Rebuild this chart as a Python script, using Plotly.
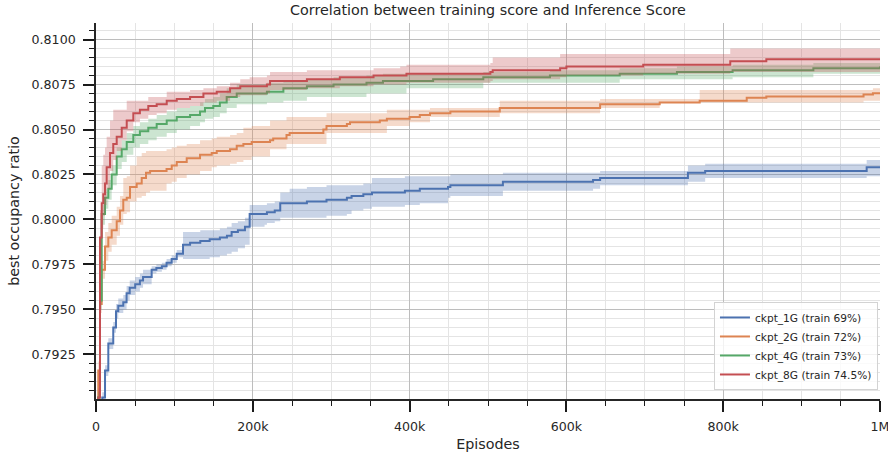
import plotly.graph_objects as go

# ---------------- data ----------------
series_names = ["ckpt_1G (train 69%)", "ckpt_2G (train 72%)",
                "ckpt_4G (train 73%)", "ckpt_8G (train 74.5%)"]
line_colors = ["#4C72B0", "#DD8452", "#55A868", "#C44E52"]
band_colors = ["rgba(76,114,176,0.30)", "rgba(221,132,82,0.30)",
               "rgba(85,168,104,0.30)", "rgba(196,78,82,0.30)"]

# ckpt_1G
g1_episodes = [0, 8000, 11500, 15700, 22000, 25500, 28400, 34800, 39000, 43000, 50000, 56000, 60000,
               71000, 77000, 84000, 90000, 96500, 103000, 111000, 120000, 133000, 145000, 158000,
               167000, 173000, 181000, 190000, 196000, 215000, 218000, 228000, 235000, 247000, 269000,
               294000, 320000, 326000, 341000, 352000, 394000, 413000, 449000, 452000, 519000, 634000,
               643000, 755000, 777000, 983000, 1000000]
g1_mean = [0.7888, 0.7901, 0.7916, 0.7931, 0.7940, 0.7949, 0.7952, 0.7954, 0.7959, 0.7962, 0.7964, 0.7966, 0.7968,
           0.7972, 0.7973, 0.7974, 0.7976, 0.7978, 0.7981, 0.7986, 0.7987, 0.7988, 0.7989, 0.7990,
           0.7991, 0.7993, 0.7994, 0.7996, 0.8003, 0.8003, 0.8004, 0.8005, 0.8009, 0.8009, 0.8010,
           0.8011, 0.8012, 0.8013, 0.8014, 0.8015, 0.8016, 0.8017, 0.8018, 0.8019, 0.8021, 0.8022,
           0.8023, 0.8026, 0.8027, 0.8029, 0.8029]
g1_upper = [0.7891, 0.7904, 0.7919, 0.7934, 0.7943, 0.7953, 0.7956, 0.7958, 0.7963, 0.7966, 0.7968, 0.7970, 0.7972,
            0.7974, 0.7975, 0.7976, 0.7978, 0.7980, 0.7983, 0.7993, 0.7993, 0.7994, 0.7994, 0.7995,
            0.7996, 0.7998, 0.7999, 0.8001, 0.8008, 0.8008, 0.8009, 0.8010, 0.8015, 0.8017, 0.8018,
            0.8019, 0.8019, 0.8019, 0.8020, 0.8023, 0.8024, 0.8024, 0.8024, 0.8025, 0.8026, 0.8026,
            0.8027, 0.8030, 0.8031, 0.8033, 0.8033]
g1_lower = [0.7885, 0.7898, 0.7913, 0.7928, 0.7937, 0.7945, 0.7948, 0.7950, 0.7955, 0.7958, 0.7960, 0.7962, 0.7964,
            0.7970, 0.7971, 0.7972, 0.7974, 0.7976, 0.7979, 0.7978, 0.7978, 0.7978, 0.7979, 0.7980,
            0.7981, 0.7982, 0.7984, 0.7986, 0.7996, 0.7997, 0.7998, 0.7999, 0.8001, 0.8001, 0.8001,
            0.8002, 0.8003, 0.8005, 0.8006, 0.8007, 0.8008, 0.8009, 0.8012, 0.8013, 0.8016, 0.8017,
            0.8019, 0.8021, 0.8023, 0.8024, 0.8024]

# ckpt_2G
g2_episodes = [0, 2900, 5100, 7300, 11500, 15700, 20000, 26400, 30600, 34800, 39200, 43400, 51900, 58300,
               63800, 69000, 90000, 96600, 103000, 115700, 132700, 147600, 154000, 171000, 179500, 188000,
               198600, 222000, 226000, 243000, 247000, 290000, 294000, 320000, 324000, 362000, 371000,
               400000, 413000, 426000, 452000, 515000, 643000, 719000, 770000, 830000, 855000, 979000,
               991000, 1000000]
g2_mean = [0.7888, 0.7916, 0.7953, 0.7972, 0.7985, 0.7990, 0.7994, 0.7999, 0.8005, 0.8011, 0.8012, 0.8018, 0.8020,
           0.8023, 0.8026, 0.8027, 0.8028, 0.8030, 0.8032, 0.8034, 0.8036, 0.8037, 0.8038, 0.8039, 0.8041,
           0.8042, 0.8043, 0.8044, 0.8045, 0.8047, 0.8048, 0.8050, 0.8052, 0.8053, 0.8054, 0.8055, 0.8056,
           0.8057, 0.8058, 0.8059, 0.8060, 0.8062, 0.8064, 0.8065, 0.8066, 0.80676, 0.80683, 0.80694,
           0.80702, 0.80707]
g2_upper = [0.7893, 0.7921, 0.7958, 0.7977, 0.7993, 0.7998, 0.8002, 0.8007, 0.8013, 0.8023, 0.8024, 0.8030,
            0.8035, 0.8037, 0.8038, 0.8038, 0.8039, 0.8040, 0.8041, 0.8042, 0.8044, 0.8045, 0.8046, 0.8047,
            0.8048, 0.8051, 0.8052, 0.8055, 0.8055, 0.8057, 0.8057, 0.8057, 0.8059, 0.8059, 0.8059, 0.8059,
            0.8061, 0.8061, 0.8061, 0.8062, 0.8062, 0.8066, 0.8067, 0.8067, 0.8072, 0.8072, 0.8072, 0.8072,
            0.8073, 0.8073]
g2_lower = [0.7883, 0.7911, 0.7948, 0.7967, 0.7977, 0.7982, 0.7986, 0.7991, 0.7997, 0.8003, 0.8004, 0.8010,
            0.8012, 0.8013, 0.8015, 0.8016, 0.8020, 0.8021, 0.8023, 0.8025, 0.8027, 0.8029, 0.8030, 0.8031,
            0.8032, 0.8033, 0.8035, 0.8039, 0.8039, 0.8042, 0.8042, 0.8042, 0.8048, 0.8048, 0.8048, 0.8048,
            0.8052, 0.8054, 0.8054, 0.8057, 0.8057, 0.8059, 0.8062, 0.8065, 0.8065, 0.8065, 0.8065, 0.8066,
            0.8066, 0.8066]

# ckpt_4G
g4_episodes = [0, 2600, 5100, 7300, 11500, 15700, 20000, 26400, 32800, 39200, 47600, 56000, 66700, 77400,
               90200, 103000, 120000, 132700, 139000, 149600, 158000, 166700, 179500, 196000, 218000,
               239000, 269000, 303000, 345000, 366000, 396000, 430000, 494000, 579000, 668000, 741000,
               812000, 915000, 1000000]
g4_mean = [0.7888, 0.7901, 0.7955, 0.8003, 0.8012, 0.8017, 0.8025, 0.8035, 0.8039, 0.8043, 0.8047, 0.8049, 0.8051,
           0.8053, 0.8055, 0.8057, 0.8058, 0.8060, 0.8062, 0.8063, 0.8065, 0.8068, 0.8070, 0.8070, 0.8071,
           0.8073, 0.8074, 0.8075, 0.8076, 0.8077, 0.8077, 0.8078, 0.8079, 0.8080, 0.8081, 0.8082, 0.8083,
           0.8084, 0.8085]
g4_upper = [0.7891, 0.7904, 0.7958, 0.8008, 0.8017, 0.8022, 0.8030, 0.8040, 0.8044, 0.8048, 0.8052, 0.8054,
            0.8056, 0.8058, 0.8060, 0.8062, 0.8063, 0.8065, 0.8067, 0.8068, 0.8070, 0.8073, 0.8075, 0.8075,
            0.8076, 0.8077, 0.8078, 0.8079, 0.8080, 0.8081, 0.8081, 0.8081, 0.8082, 0.8083, 0.8084, 0.8085,
            0.8086, 0.8087, 0.8088]
g4_lower = [0.7885, 0.7898, 0.7950, 0.7997, 0.8006, 0.8011, 0.8019, 0.8028, 0.8032, 0.8036, 0.8040, 0.8042,
            0.8044, 0.8046, 0.8048, 0.8050, 0.8052, 0.8054, 0.8056, 0.8057, 0.8059, 0.8062, 0.8064, 0.8064,
            0.8065, 0.8066, 0.8068, 0.8068, 0.8070, 0.8070, 0.8073, 0.8073, 0.8076, 0.8076, 0.8078, 0.8078,
            0.8079, 0.8081, 0.8082]

# ckpt_8G
g8_episodes = [0, 2900, 5100, 7300, 9300, 11500, 13600, 17900, 22000, 26400, 32800, 39200, 47600, 56000,
               66700, 77400, 90200, 103000, 120000, 137000, 154000, 167000, 171000, 184000, 196000, 218000,
               222000, 269000, 311000, 354000, 388000, 396000, 430000, 503000, 506000, 575000, 592000,
               600000, 698000, 796000, 809000, 855000, 940000, 1000000]
g8_mean = [0.7888, 0.7901, 0.7990, 0.8009, 0.8014, 0.8020, 0.8029, 0.8037, 0.8042, 0.8046, 0.8051, 0.8055, 0.8059,
           0.8061, 0.8063, 0.8064, 0.8066, 0.8067, 0.8068, 0.8070, 0.8071, 0.8071, 0.8073, 0.8074, 0.8074,
           0.8075, 0.8077, 0.8078, 0.8079, 0.8080, 0.8080, 0.8081, 0.8081, 0.8082, 0.8083, 0.8083, 0.8084,
           0.8085, 0.8086, 0.8086, 0.8088, 0.8089, 0.8089, 0.8089]
g8_upper = [0.7893, 0.7906, 0.8005, 0.8030, 0.8036, 0.8040, 0.8046, 0.8055, 0.8061, 0.8061, 0.8061, 0.8066,
            0.8066, 0.8066, 0.8068, 0.8068, 0.8071, 0.8071, 0.8072, 0.8073, 0.8074, 0.8074, 0.8076, 0.8078,
            0.8079, 0.8080, 0.8082, 0.8083, 0.8083, 0.8084, 0.8085, 0.8086, 0.8086, 0.8087, 0.8090, 0.8090,
            0.8092, 0.8092, 0.8092, 0.8092, 0.8095, 0.8095, 0.8095, 0.8097]
g8_lower = [0.7883, 0.7896, 0.7975, 0.7995, 0.8002, 0.8008, 0.8017, 0.8027, 0.8033, 0.8038, 0.8044, 0.8049,
            0.8054, 0.8056, 0.8058, 0.8059, 0.8061, 0.8062, 0.8063, 0.8065, 0.8066, 0.8066, 0.8068, 0.8069,
            0.8069, 0.8070, 0.8072, 0.8073, 0.8074, 0.8075, 0.8075, 0.8076, 0.8076, 0.8077, 0.8078, 0.8078,
            0.8079, 0.8080, 0.8081, 0.8081, 0.8082, 0.8082, 0.8082, 0.8082]

title_text = "Correlation between training score and Inference Score"
x_label = "Episodes"
y_label = "best occupancy ratio"

# ---------------- figure ----------------
series = [
    (g1_episodes, g1_mean, g1_lower, g1_upper),
    (g2_episodes, g2_mean, g2_lower, g2_upper),
    (g4_episodes, g4_mean, g4_lower, g4_upper),
    (g8_episodes, g8_mean, g8_lower, g8_upper),
]

fig = go.Figure()
for (xs, mean, lo, hi), name, lc, bc in zip(series, series_names, line_colors, band_colors):
    fig.add_trace(go.Scatter(x=xs, y=hi, mode="lines", line=dict(width=0, shape="hv"),
                             showlegend=False, hoverinfo="skip"))
    fig.add_trace(go.Scatter(x=xs, y=lo, mode="lines", line=dict(width=0, shape="hv"),
                             fill="tonexty", fillcolor=bc, showlegend=False, hoverinfo="skip"))
    fig.add_trace(go.Scatter(x=xs, y=mean, mode="lines", name=name,
                             line=dict(color=lc, width=2, shape="hv")))

TXT = "#262626"
fig.update_layout(
    template="none",
    width=888, height=453,
    margin=dict(l=96, r=8, t=23, b=54, pad=0),
    paper_bgcolor="white", plot_bgcolor="white",
    font=dict(family="DejaVu Sans", color=TXT),
    title=dict(text=title_text, x=0.5, xref="paper", xanchor="center",
               y=1 - 10 / 453, yref="container", yanchor="middle",
               font=dict(size=14.3, color=TXT)),
    legend=dict(x=0.9974, xanchor="right", y=0.024, yanchor="bottom",
                traceorder="normal",
                bgcolor="rgba(255,255,255,0.8)", bordercolor="#d3d3d3", borderwidth=1,
                font=dict(size=10.6, color=TXT)),
    showlegend=True,
)

fig.update_xaxes(
    range=[0, 1_000_000], tick0=0, dtick=200_000, tickformat="~s",
    ticks="outside", ticklen=11, tickwidth=2.4, tickcolor="#1a1a1a",
    showline=True, linecolor="#262626", linewidth=1.6, mirror=False,
    showgrid=True, gridcolor="#bdbdbd", gridwidth=1.4, zeroline=False,
    tickfont=dict(size=12.6, color=TXT), automargin=False, ticklabelstandoff=4,
    ticklabeloverflow="allow",
    title=dict(text=x_label, font=dict(size=14.3, color=TXT), standoff=6),
    minor=dict(tick0=0, dtick=50_000, ticks="outside", ticklen=5, tickwidth=1.2,
               tickcolor="#1a1a1a", showgrid=True, gridcolor="#e4e4e4", gridwidth=0.9),
)
fig.update_yaxes(
    range=[0.79002, 0.81092], tick0=0.79, dtick=0.0025, tickformat=".4f",
    ticks="outside", ticklen=11, tickwidth=2.4, tickcolor="#1a1a1a",
    showline=True, linecolor="#262626", linewidth=1.6, mirror=False,
    showgrid=True, gridcolor="#bdbdbd", gridwidth=1.4, zeroline=False,
    tickfont=dict(size=12.6, color=TXT), automargin=False, ticklabelstandoff=5,
    title=dict(text=y_label, font=dict(size=14.3, color=TXT), standoff=9),
    minor=dict(tick0=0.79, dtick=0.0005, ticks="outside", ticklen=5, tickwidth=1.2,
               tickcolor="#1a1a1a", showgrid=True, gridcolor="#e4e4e4", gridwidth=0.9),
)

fig.write_html("out.html", config={"displayModeBar": False},
               post_script="document.body.style.margin='0';document.body.style.padding='0';")
